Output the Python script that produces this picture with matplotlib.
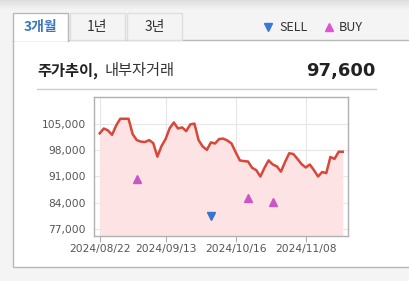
import matplotlib
matplotlib.use('Agg')
import matplotlib.pyplot as plt
import numpy as np
from matplotlib.patches import Rectangle

# ---- data ----
tick_labels = ['2024/08/22', '2024/09/13', '2024/10/16', '2024/11/08']
tick_index = [0, 16, 33, 50]
prices = [102500, 103800, 103300, 102100, 104600, 106400, 106400, 106400,
          102300, 100700, 100300, 100200, 100700, 99900, 96300, 99100,
          101000, 103900, 105400, 103800, 104100, 103100, 104900, 105100,
          100700, 99000, 98100, 100100, 99800, 101000, 101100, 100600,
          99800, 97500, 95300, 95100, 95000, 93300, 92700, 91000,
          93300, 95300, 94200, 93700, 92300, 94900, 97200, 97000,
          95700, 94300, 93400, 94200, 92700, 91000, 92200, 91900,
          96200, 95700, 97600, 97600]
buy_idx = [9, 36, 42]
buy_val = [90300, 85300, 84200]
sell_idx = [27]
sell_val = [80500]
yticks = [77000, 84000, 91000, 98000, 105000]
current_price = '97,600'
tabs = ['3개월', '1년', '3년']

KR = ['Noto Sans CJK KR', 'DejaVu Sans']

W, H = 410, 281
fig = plt.figure(figsize=(W / 100, H / 100), dpi=100)
fig.patch.set_facecolor('#f4f4f4')

bg = fig.add_axes([0, 0, 1, 1])
bg.set_xlim(0, W)
bg.set_ylim(H, 0)
bg.axis('off')

# top shadow
grad = np.linspace(0, 1, 50).reshape(-1, 1)
bg.imshow(grad, extent=[0, W, 10, 0],
          cmap=matplotlib.colors.LinearSegmentedColormap.from_list('g', ['#dedede', '#f4f4f4']),
          aspect='auto', zorder=0)

# card
bg.add_patch(Rectangle((13, 40), W + 20, 227, facecolor='white', edgecolor='#b8b8b8', lw=1, zorder=1))
# tabs
tab_x = [(13, 68), (70, 125), (127, 182)]
for i, ((x0, x1), t) in enumerate(zip(tab_x, tabs)):
    if i == 0:
        bg.add_patch(Rectangle((x0, 13), x1 - x0, 28, facecolor='white', edgecolor='none', zorder=2))
        bg.plot([x0, x0, x1, x1], [41, 13, 13, 41], color='#b8b8b8', lw=1, zorder=3)
        bg.text((x0 + x1) / 2, 27.5, t, ha='center', va='center', fontsize=10, color='#3b78c4',
                family=KR, fontweight='bold', zorder=4)
    else:
        bg.add_patch(Rectangle((x0, 13), x1 - x0, 27, facecolor='#f4f4f4', edgecolor='#dedede', lw=1, zorder=2))
        bg.text((x0 + x1) / 2, 27.5, t, ha='center', va='center', fontsize=10, color='#333333',
                family=KR, zorder=4)

# legend
bg.plot([268], [27], marker='v', ms=6, color='#3a78d8', ls='none', zorder=4)
bg.text(279, 27.5, 'SELL', ha='left', va='center', fontsize=9, color='#333333', family=KR, zorder=4)
bg.plot([329], [27], marker='^', ms=6, color='#e052d0', ls='none', zorder=4)
bg.text(339, 27.5, 'BUY', ha='left', va='center', fontsize=9, color='#333333', family=KR, zorder=4)

# title
bg.text(37, 71, '주가추이,', ha='left', va='center', fontsize=11, color='#222222', fontweight='bold',
        family=KR, zorder=4)
bg.text(105, 71, '내부자거래', ha='left', va='center', fontsize=11, color='#333333',
        family=KR, zorder=4)
bg.text(376, 71, current_price, ha='right', va='center', fontsize=13, color='#222222', fontweight='bold',
        family=['DejaVu Sans'], zorder=4)
bg.plot([37, 376], [88.5, 88.5], color='#cccccc', lw=1, zorder=4)

# ---- chart ----
ax = fig.add_axes([94 / W, 1 - 236 / H, 254 / W, 139 / H])
ax.set_facecolor('white')
x = np.arange(len(prices))
ymin, ymax = 75130, 112200
ax.fill_between(x, prices, ymin, color='#fde3e3', lw=0, zorder=1)
ax.plot(x, prices, color='#d9463a', lw=1.8, zorder=3, solid_joinstyle='round')
ax.plot(buy_idx, buy_val, marker='^', ms=5.5, color='#cc55c4', ls='none', zorder=4)
ax.plot(sell_idx, sell_val, marker='v', ms=5.5, color='#3a72d0', ls='none', zorder=4)
ax.set_xlim(-1.38, 60.27)
ax.set_ylim(ymin, ymax)
ax.set_xticks(tick_index)
ax.set_xticklabels(tick_labels)
ax.set_yticks(yticks)
ax.set_yticklabels([f'{v:,}' for v in yticks])
ax.grid(True, color='#e6e6e6', lw=0.8, zorder=0)
ax.set_axisbelow(True)
for s in ax.spines.values():
    s.set_color('#b0b0b0')
    s.set_linewidth(1)
ax.tick_params(axis='x', length=4, width=0.8, color='#b0b0b0', labelsize=7.7, labelcolor='#555555', pad=1.5)
ax.tick_params(axis='y', length=0, labelsize=7.7, labelcolor='#555555', pad=6)

fig.savefig('out.png', dpi=100, facecolor=fig.get_facecolor())
